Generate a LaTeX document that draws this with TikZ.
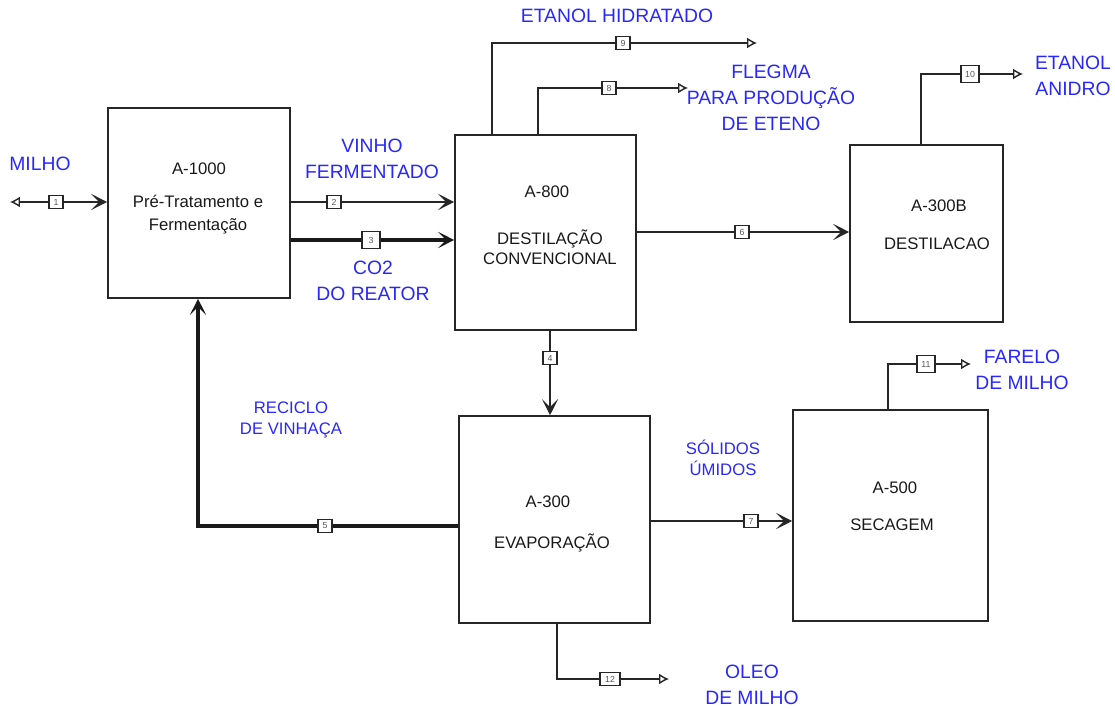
\documentclass[tikz,border=0pt]{standalone}
\usepackage{fontspec}
\setmainfont{Liberation Sans}
\usepackage{tikz}
\usetikzlibrary{arrows.meta}

\definecolor{streamblue}{RGB}{40,40,250}

\begin{document}
\begin{tikzpicture}[
            x=0.02cm, y=-0.02cm,
            unitbox/.style={rectangle, draw=black!85, line width=0.9pt, inner sep=0pt},
            unittext/.style={align=center, text=black!90, font=\fontsize{9.5}{11.3}\selectfont},
            tag/.style={rectangle, draw=black!85, fill=white, line width=0.7pt, inner sep=0pt,
                        minimum width=0.28cm, minimum height=0.27cm, text=black!65,
                        font=\fontsize{5}{6}\selectfont},
            bigtag/.style={tag, minimum width=0.36cm, minimum height=0.34cm},
            biglabel/.style={align=center, text=streamblue, font=\fontsize{11}{14.6}\selectfont},
            smalllabel/.style={align=center, text=streamblue, font=\fontsize{9.5}{12.3}\selectfont},
            stream/.style={draw=black!85, line width=0.8pt},
            heavy/.style={draw=black!90, line width=2.2pt},
            feedin/.style={-{Stealth[length=3.2mm,width=3.2mm,inset=1.6mm]}},
            outlet/.style={-{Latex[open,length=2mm,width=2.2mm]}},
            feedstart/.style={{Latex[open,length=2mm,width=2.2mm]}-}
          ]
          \useasboundingbox (0,0) rectangle (1115,709);

          %Units
          \node[unitbox, minimum width=3.64cm, minimum height=3.80cm] at (199,203)   (A1000) {};
          \node[unitbox, minimum width=3.62cm, minimum height=3.90cm] at (545.5,232.5) (A800) {};
          \node[unitbox, minimum width=3.06cm, minimum height=3.54cm] at (926.5,233.5) (A300B) {};
          \node[unitbox, minimum width=3.82cm, minimum height=4.14cm] at (554.5,519.5) (A300) {};
          \node[unitbox, minimum width=3.90cm, minimum height=4.22cm] at (890.5,515.5) (A500) {};

          \node[unittext] at (199,169) (A1000id) {A-1000};
          \node[unittext, font=\fontsize{9.5}{13}\selectfont] at (198,214.5) (A1000name) {Pré-Tratamento e\\Fermentação};
          \node[unittext] at (547,192) (A800id) {A-800};
          \node[unittext] at (550,247) (A800name) {DESTILAÇÃO\\CONVENCIONAL};
          \node[unittext] at (939,206) (A300Bid) {A-300B};
          \node[unittext] at (937,244) (A300Bname) {DESTILACAO};
          \node[unittext] at (548,502) (A300id) {A-300};
          \node[unittext] at (552,543) (A300name) {EVAPORAÇÃO};
          \node[unittext] at (895,488) (A500id) {A-500};
          \node[unittext] at (892,525) (A500name) {SECAGEM};

          %Stream numbers
          \node[tag] at (56,202) (t1) {1};
          \node[tag] at (334,202) (t2) {2};
          \node[bigtag] at (371,240) (t3) {3};
          \node[tag] at (550,358) (t4) {4};
          \node[tag] at (325,526) (t5) {5};
          \node[tag] at (742,232) (t6) {6};
          \node[tag] at (751,521) (t7) {7};
          \node[tag] at (609,88) (t8) {8};
          \node[tag] at (623,43) (t9) {9};
          \node[bigtag] at (970,74) (t10) {10};
          \node[bigtag] at (926,364) (t11) {11};
          \node[tag, minimum width=0.4cm] at (610,679) (t12) {12};

          \coordinate (in1) at (10,202);
          \coordinate (out8) at (688,88);
          \coordinate (out9) at (757,43);
          \coordinate (out10) at (1023,74);
          \coordinate (out11) at (971,364);
          \coordinate (out12) at (669,679);

          %Lines
          \draw[stream, feedstart] (in1) -- (t1.west);
          \draw[stream, feedin] (t1.east) -- (A1000.west |- t1);
          \draw[stream] (A1000.east |- t2) -- (t2.west);
          \draw[stream, feedin] (t2.east) -- (A800.west |- t2);
          \draw[heavy] (A1000.east |- t3) -- (t3.west);
          \draw[heavy, feedin] (t3.east) -- (A800.west |- t3);
          \draw[stream] (A800.south -| t4) -- (t4.north);
          \draw[stream, feedin] (t4.south) -- (A300.north -| t4);
          \draw[heavy] (A300.west |- t5) -- (t5.east);
          \draw[heavy, feedin] (t5.west) -| (A1000.south -| 198,0);
          \draw[stream] (A800.east |- t6) -- (t6.west);
          \draw[stream, feedin] (t6.east) -- (A300B.west |- t6);
          \draw[stream] (A300.east |- t7) -- (t7.west);
          \draw[stream, feedin] (t7.east) -- (A500.west |- t7);
          \draw[stream] (A800.north -| 538,0) |- (t8.west);
          \draw[stream, outlet] (t8.east) -- (out8);
          \draw[stream] (A800.north -| 492,0) |- (t9.west);
          \draw[stream, outlet] (t9.east) -- (out9);
          \draw[stream] (A300B.north -| 921,0) |- (t10.west);
          \draw[stream, outlet] (t10.east) -- (out10);
          \draw[stream] (A500.north -| 888,0) |- (t11.west);
          \draw[stream, outlet] (t11.east) -- (out11);
          \draw[stream] (A300.south -| 557,0) |- (t12.west);
          \draw[stream, outlet] (t12.east) -- (out12);

          %Labels
          \node[biglabel] at (40,164) (milho) {MILHO};
          \node[biglabel] at (372,159) (vinho) {VINHO\\FERMENTADO};
          \node[biglabel] at (373,281) (co2) {CO2\\DO REATOR};
          \node[biglabel] at (617,16) (hidratado) {ETANOL HIDRATADO};
          \node[biglabel] at (771,98) (flegma) {FLEGMA\\PARA PRODUÇÃO\\DE ETENO};
          \node[biglabel] at (1073,76) (anidro) {ETANOL\\ANIDRO};
          \node[smalllabel] at (291,420) (reciclo) {RECICLO\\DE VINHAÇA};
          \node[smalllabel] at (723,458) (solidos) {SÓLIDOS\\ÚMIDOS};
          \node[biglabel] at (1022,370) (farelo) {FARELO\\DE MILHO};
          \node[biglabel] at (752,685) (oleo) {OLEO\\DE MILHO};

        \end{tikzpicture}
\end{document}
